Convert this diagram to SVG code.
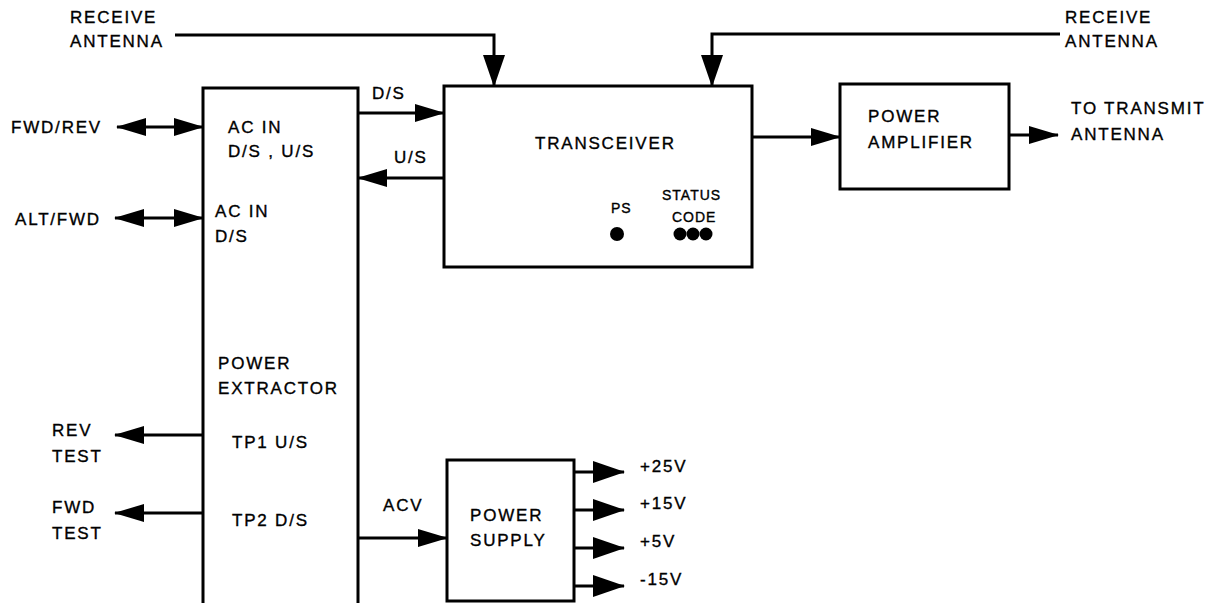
<svg xmlns="http://www.w3.org/2000/svg" width="1230" height="603" viewBox="0 0 1230 603">
<style>
text{font-family:"Liberation Sans",Arial,sans-serif;font-size:17px;letter-spacing:1.8px;fill:#000;stroke:#000;stroke-width:0.35px}
.sm{font-size:14px;letter-spacing:1px}
.box{fill:none;stroke:#000;stroke-width:3}
.ln{fill:none;stroke:#000;stroke-width:3}
.ar{marker-end:url(#ah)}
.dbl{marker-end:url(#ah);marker-start:url(#ah)}
.big{marker-end:url(#ahb)}
</style>
<defs>
<marker id="ah" viewBox="0 0 30 18" refX="29" refY="9" markerWidth="30" markerHeight="18" markerUnits="userSpaceOnUse" orient="auto-start-reverse" overflow="visible">
<path d="M0,0 L30,9 L0,18 z" fill="#000"/>
</marker>
<marker id="ahb" viewBox="0 0 32 22" refX="31" refY="11" markerWidth="32" markerHeight="22" markerUnits="userSpaceOnUse" orient="auto" overflow="visible">
<path d="M0,0 L32,11 L0,22 z" fill="#000"/>
</marker>
</defs>
<rect width="1230" height="603" fill="#fff"/>

<g id="power-extractor">
<path class="box" d="M203,603 V88 H358 V603"/>
<text x="228" y="133">AC IN</text>
<text x="228" y="157">D/S , U/S</text>
<text x="215" y="217">AC IN</text>
<text x="215" y="242">D/S</text>
<text x="218" y="369">POWER</text>
<text x="218" y="394">EXTRACTOR</text>
<text x="232" y="448">TP1 U/S</text>
<text x="232" y="526">TP2 D/S</text>
</g>

<g id="transceiver">
<rect class="box" x="444" y="86" width="308" height="181"/>
<text x="535" y="149">TRANSCEIVER</text>
<text class="sm" x="611" y="213">PS</text>
<circle cx="617" cy="234" r="7"/>
<text class="sm" x="662" y="200">STATUS</text>
<text class="sm" x="672" y="222">CODE</text>
<circle cx="680" cy="234" r="6.5"/>
<circle cx="693" cy="234" r="6.5"/>
<circle cx="706" cy="234" r="6.5"/>
</g>

<g id="power-amplifier">
<rect class="box" x="840" y="84" width="169" height="105"/>
<text x="868" y="122">POWER</text>
<text x="868" y="148">AMPLIFIER</text>
</g>

<g id="power-supply">
<rect class="box" x="447" y="460" width="127" height="141"/>
<text x="470" y="521">POWER</text>
<text x="470" y="546">SUPPLY</text>
</g>

<g id="labels">
<text x="70" y="23">RECEIVE</text>
<text x="70" y="47">ANTENNA</text>
<text x="1065" y="23">RECEIVE</text>
<text x="1065" y="47">ANTENNA</text>
<text x="1071" y="114">TO TRANSMIT</text>
<text x="1071" y="140">ANTENNA</text>
<text x="372" y="99">D/S</text>
<text x="394" y="163">U/S</text>
<text x="11" y="133">FWD/REV</text>
<text x="15" y="225">ALT/FWD</text>
<text x="52" y="436">REV</text>
<text x="52" y="462">TEST</text>
<text x="52" y="513">FWD</text>
<text x="52" y="539">TEST</text>
<text x="383" y="511">ACV</text>
<text x="640" y="472">+25V</text>
<text x="640" y="509">+15V</text>
<text x="640" y="547">+5V</text>
<text x="640" y="585">-15V</text>
</g>

<g id="connectors">
<path class="ln big" d="M175,35 H494 V86"/>
<path class="ln big" d="M1060,34 H712 V86"/>
<path class="ln ar" d="M358,113 H444"/>
<path class="ln ar" d="M444,178 H358"/>
<path class="ln dbl" d="M117,127 H203"/>
<path class="ln dbl" d="M115,218 H203"/>
<path class="ln ar" d="M203,435 H115"/>
<path class="ln ar" d="M203,513 H115"/>
<path class="ln ar" d="M358,538 H447"/>
<path class="ln ar" d="M752,137 H840"/>
<path class="ln ar" d="M1009,135 H1058"/>
<path class="ln big" d="M574,472 H624"/>
<path class="ln big" d="M574,510 H624"/>
<path class="ln big" d="M574,548 H624"/>
<path class="ln big" d="M574,586 H624"/>
</g>
</svg>
